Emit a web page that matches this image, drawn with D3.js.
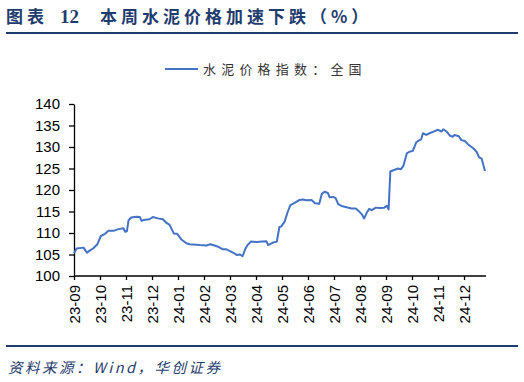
<!DOCTYPE html>
<html><head><meta charset="utf-8">
<script src="https://cdn.jsdelivr.net/npm/d3@7"></script>
<style>
html,body{margin:0;padding:0;background:#fff;}
svg{display:block;}
</style>
</head><body>
<svg id="c" width="524" height="382"></svg>
<script>
const tickLabels = ["23-09","23-10","23-11","23-12","24-01","24-02","24-03","24-04","24-05","24-06","24-07","24-08","24-09","24-10","24-11","24-12"];
const yTicks = [100,105,110,115,120,125,130,135,140];
const dates = ["2023-09-01","2023-09-04","2023-09-12","2023-09-16","2023-09-19","2023-09-23","2023-09-28",
"2023-10-02","2023-10-07","2023-10-11","2023-10-17","2023-10-23","2023-10-29","2023-10-31",
"2023-11-02","2023-11-04","2023-11-07","2023-11-13","2023-11-17","2023-11-19","2023-11-21","2023-11-28",
"2023-12-02","2023-12-08","2023-12-14","2023-12-18","2023-12-22","2023-12-27","2023-12-31",
"2024-01-05","2024-01-11","2024-01-15","2024-01-27",
"2024-02-04","2024-02-08","2024-02-11","2024-02-17","2024-02-22","2024-02-26",
"2024-03-01","2024-03-05","2024-03-09","2024-03-13","2024-03-16","2024-03-19","2024-03-22","2024-03-26",
"2024-04-02","2024-04-08","2024-04-13","2024-04-15","2024-04-21","2024-04-25","2024-04-28","2024-04-30",
"2024-05-04","2024-05-08","2024-05-11","2024-05-16","2024-05-22","2024-05-26","2024-05-30",
"2024-06-05","2024-06-09","2024-06-14","2024-06-17","2024-06-20","2024-06-24","2024-06-26","2024-06-30",
"2024-07-03","2024-07-06","2024-07-10","2024-07-16","2024-07-22","2024-07-27","2024-07-30",
"2024-08-03","2024-08-06","2024-08-09","2024-08-12","2024-08-15","2024-08-20","2024-08-24","2024-08-30",
"2024-09-02","2024-09-04","2024-09-06","2024-09-11","2024-09-15","2024-09-18","2024-09-21","2024-09-25","2024-09-28",
"2024-10-02","2024-10-06","2024-10-10","2024-10-12","2024-10-14","2024-10-18","2024-10-22","2024-10-28",
"2024-11-01","2024-11-05","2024-11-07","2024-11-11","2024-11-15","2024-11-18","2024-11-20","2024-11-25","2024-11-28",
"2024-12-02","2024-12-06","2024-12-12","2024-12-16","2024-12-19","2024-12-22","2024-12-26"];
const values = [105.3,106.4,106.6,105.4,105.9,106.4,107.4,
109.3,109.8,110.5,110.5,110.9,111.1,110.3,
110.4,113.0,113.6,113.8,113.7,112.8,113.0,113.2,
113.7,113.4,113.2,112.4,111.9,109.9,109.8,
108.5,107.6,107.4,107.2,
107.1,107.4,107.2,106.8,106.2,106.2,
105.8,105.4,104.9,105.0,104.6,106.2,107.2,108.0,
107.9,108.0,108.1,107.2,107.8,108.0,111.4,111.5,
112.6,115.0,116.5,117.0,117.7,117.8,117.6,
117.7,116.9,116.8,119.1,119.6,119.3,118.3,118.4,
118.1,116.7,116.3,116.0,115.7,115.7,115.2,
114.4,113.4,114.7,115.6,115.3,115.9,115.8,115.9,
116.3,115.5,124.3,124.7,125.0,124.8,125.6,128.5,128.9,
129.1,131.1,131.6,131.8,133.2,132.8,133.2,133.7,
134.0,133.6,134.1,133.6,132.6,132.4,132.8,132.5,131.6,
131.4,130.6,129.7,128.9,127.6,127.3,124.4];
const seriesName = "水泥价格指数：全国";

const navy = "#1F3C6E";
const svg = d3.select("#c");

// month index (evenly spaced months, like the Excel date axis)
function monthIndex(s){
  const [y,m,d] = s.split("-").map(Number);
  const dim = new Date(y, m, 0).getDate();
  return (y-2023)*12 + (m-9) + (d-1)/dim;
}

const x = d3.scaleLinear().domain([0,16]).range([74,490]);
const y = d3.scaleLinear().domain([100,140]).range([276,104]);

// title
const title = svg.append("g").attr("fill", navy).attr("font-family","'Noto Sans CJK SC',sans-serif").attr("font-weight","bold").attr("font-size",17);
title.append("text").attr("x",6).attr("y",23).attr("letter-spacing",4).text("图表");
title.append("text").attr("x",60).attr("y",23).attr("font-family","'Liberation Serif',serif").attr("font-size",19).text("12");
title.append("text").attr("x",100).attr("y",23).attr("letter-spacing",4).text("本周水泥价格加速下跌（%）");
svg.append("line").attr("x1",6).attr("x2",518).attr("y1",33).attr("y2",33).attr("stroke",navy).attr("stroke-width",2);

// legend
svg.append("line").attr("x1",165).attr("x2",198).attr("y1",69).attr("y2",69).attr("stroke","#4472C4").attr("stroke-width",2);
svg.append("text").attr("x",203).attr("y",74).attr("font-family","'Noto Sans CJK SC',sans-serif").attr("font-size",13).attr("letter-spacing",5.2).attr("fill","#333").text(seriesName);

// axes
const yAxis = d3.axisLeft(y).tickValues(yTicks).tickSize(5).tickSizeOuter(0);
const gy = svg.append("g").attr("transform","translate(74,0)").call(yAxis);
gy.select(".domain").attr("stroke","#000").attr("stroke-width",1.3);
gy.selectAll(".tick line").attr("stroke","#000").attr("stroke-width",1.3);
gy.selectAll(".tick text").attr("font-family","'Liberation Sans',Arial,sans-serif").attr("font-size",15).attr("fill","#000").attr("x",-14);

const xAxis = d3.axisBottom(x).tickValues(d3.range(tickLabels.length)).tickFormat(i=>tickLabels[i]).tickSize(4).tickSizeOuter(0);
const gx = svg.append("g").attr("transform","translate(0,276)").call(xAxis);
gx.select(".domain").attr("stroke","#000").attr("stroke-width",1.3).attr("d","M74,0H486");
gx.selectAll(".tick line").attr("stroke","#000").attr("stroke-width",1.3);
gx.selectAll(".tick text").attr("font-family","'Liberation Sans',Arial,sans-serif").attr("font-size",15).attr("fill","#000")
  .attr("transform","rotate(-90)").attr("text-anchor","end").attr("x",-9).attr("y",0).attr("dy","0.35em");

// line
const data = dates.map((d,i)=>({m:monthIndex(d), v:values[i]}));
svg.append("path").datum(data)
  .attr("fill","none").attr("stroke","#4472C4").attr("stroke-width",2).attr("stroke-linejoin","round")
  .attr("d", d3.line().x(d=>x(d.m)).y(d=>y(d.v)));

// footer
svg.append("line").attr("x1",6).attr("x2",518).attr("y1",346).attr("y2",346).attr("stroke",navy).attr("stroke-width",2);
svg.append("text").attr("x",8).attr("y",373).attr("font-family","'Noto Sans CJK SC',sans-serif").attr("font-style","italic").attr("font-size",14.5).attr("letter-spacing",2.5).attr("fill",navy).text("资料来源：Wind，华创证券");
</script>
</body></html>
